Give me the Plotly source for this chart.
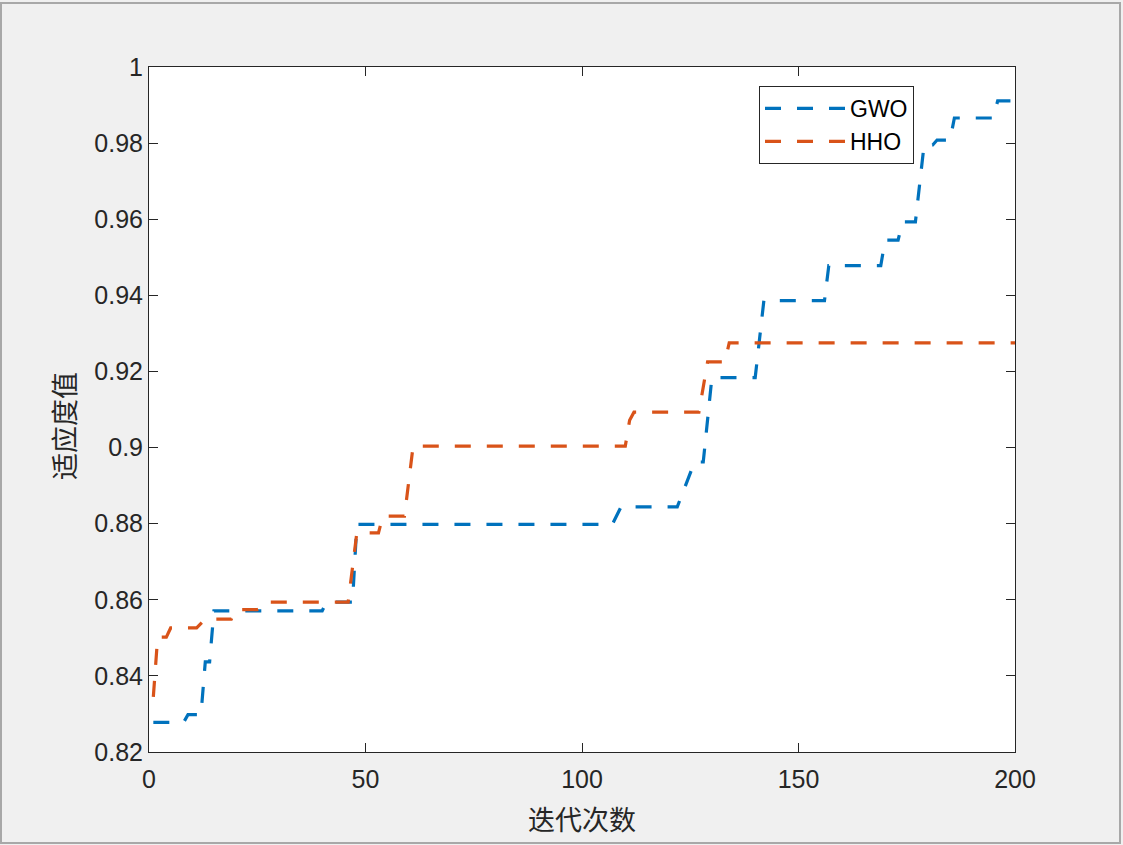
import plotly.graph_objects as go

# ---- data (iteration, fitness) breakpoints ----
gwo_iter = [1, 8, 9, 12, 13, 14, 15, 40, 41, 47, 48, 107, 109, 122, 126, 128, 130,
            140, 142, 156, 157, 169, 170, 173, 174, 177, 179, 181, 182, 185, 186, 195, 196, 200]
gwo_fit = [0.8278, 0.8278, 0.8298, 0.8298, 0.8437, 0.8437, 0.8571, 0.8571, 0.8594, 0.8594,
           0.8798, 0.8798, 0.8844, 0.8844, 0.8962, 0.8962, 0.9184, 0.9184, 0.9386, 0.9386,
           0.9478, 0.9478, 0.9545, 0.9545, 0.9593, 0.9593, 0.9795, 0.9795, 0.9808, 0.9808,
           0.9866, 0.9866, 0.9911, 0.9911]

hho_iter = [1, 2, 4, 5, 11, 13, 19, 20, 25, 26, 27, 46, 48, 53, 54, 59, 61,
            110, 111, 112, 127, 129, 133, 134, 200]
hho_fit = [0.8345, 0.8502, 0.8502, 0.8526, 0.8526, 0.8549, 0.8549, 0.8574, 0.8574, 0.8578,
           0.8594, 0.8594, 0.8776, 0.8776, 0.8820, 0.8820, 0.9004, 0.9004, 0.9072, 0.9093,
           0.9093, 0.9225, 0.9225, 0.9275, 0.9275]

series_names = ["GWO", "HHO"]
x_ticks = [0, 50, 100, 150, 200]
y_ticks = [0.82, 0.84, 0.86, 0.88, 0.90, 0.92, 0.94, 0.96, 0.98, 1.00]
y_tick_text = ["0.82", "0.84", "0.86", "0.88", "0.9", "0.92", "0.94", "0.96", "0.98", "1"]
x_title = "迭代次数"
y_title = "适应度值"

W, H = 1123, 845
L, R, T, B = 149, 108, 67, 93
pw, ph = W - L - R, H - T - B

axis_col = "#262626"
fig = go.Figure()
fig.add_trace(go.Scatter(x=gwo_iter, y=gwo_fit, mode="lines", name=series_names[0],
                         line=dict(color="#0072BD", width=3.2, dash="16px,16px")))
fig.add_trace(go.Scatter(x=hho_iter, y=hho_fit, mode="lines", name=series_names[1],
                         line=dict(color="#D95319", width=3.2, dash="16px,16px")))

tickfont = dict(family="Liberation Sans, Arial, sans-serif", size=25, color=axis_col)
fig.update_xaxes(range=[0, 200], tickvals=x_ticks, ticks="inside", ticklen=9,
                 tickcolor=axis_col, showline=True, linecolor=axis_col, linewidth=1,
                 mirror="ticks", showgrid=False, zeroline=False, tickfont=tickfont,
                 ticklabelstandoff=5)
fig.update_yaxes(range=[0.82, 1.0], tickvals=y_ticks, ticktext=y_tick_text, ticks="inside",
                 ticklen=9, tickcolor=axis_col, showline=True, linecolor=axis_col, linewidth=1,
                 mirror="ticks", showgrid=False, zeroline=False, tickfont=tickfont)

titlefont = dict(family="Noto Sans CJK SC, sans-serif", size=27, color=axis_col)
fig.add_annotation(text=x_title, xref="paper", yref="paper", x=(582 - L) / pw,
                   y=-(818 - (T + ph)) / ph, showarrow=False, font=titlefont,
                   xanchor="center", yanchor="middle")
fig.add_annotation(text=y_title, xref="paper", yref="paper", x=-(L - 63) / pw,
                   y=(T + ph - 426) / ph, showarrow=False, font=titlefont, textangle=-90,
                   xanchor="center", yanchor="middle")

# window frame
fig.add_shape(type="rect", xref="paper", yref="paper",
              x0=-(L - 1) / pw, x1=(W - 3 - L) / pw,
              y0=-(843 - (T + ph)) / ph, y1=(T + ph - 3) / ph,
              line=dict(color="#a8a8a8", width=2), layer="below")

fig.update_layout(
    width=W, height=H,
    margin=dict(l=L, r=R, t=T, b=B),
    paper_bgcolor="#f0f0f0", plot_bgcolor="white",
    showlegend=True,
    legend=dict(x=(759 - L) / pw, y=(T + ph - 86) / ph, xanchor="left", yanchor="top",
                bgcolor="white", bordercolor=axis_col, borderwidth=1,
                font=dict(family="Liberation Sans, Arial, sans-serif", size=23, color="black"),
                itemwidth=80, tracegroupgap=0),
)

fig.write_html("out.html")
